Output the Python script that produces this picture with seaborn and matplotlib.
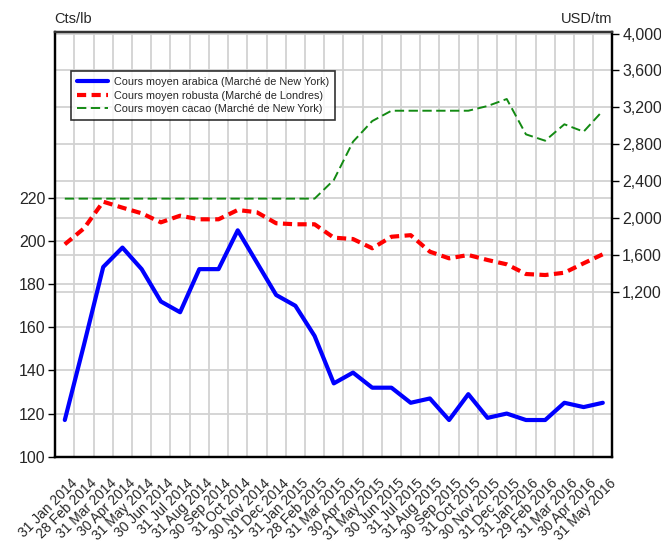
import numpy as np
import pandas as pd
import matplotlib
matplotlib.use("Agg")
from matplotlib import pyplot as plt
import seaborn as sns

# monthly averages, Jan 2014 - May 2016
months = ["31 Jan 2014", "28 Feb 2014", "31 Mar 2014", "30 Apr 2014", "31 May 2014",
          "30 Jun 2014", "31 Jul 2014", "31 Aug 2014", "30 Sep 2014", "31 Oct 2014",
          "30 Nov 2014", "31 Dec 2014", "31 Jan 2015", "28 Feb 2015", "31 Mar 2015",
          "30 Apr 2015", "31 May 2015", "30 Jun 2015", "31 Jul 2015", "31 Aug 2015",
          "30 Sep 2015", "31 Oct 2015", "30 Nov 2015", "31 Dec 2015", "31 Jan 2016",
          "29 Feb 2016", "31 Mar 2016", "30 Apr 2016", "31 May 2016"]
arabica = [117, 152, 188, 197, 187, 172, 167, 187, 187, 205,
           190, 175, 170, 156, 134, 139, 132, 132, 125, 127,
           117, 129, 118, 120, 117, 117, 125, 123, 125]
robusta = [1715, 1888, 2177, 2112, 2051, 1953, 2025, 1986, 1986, 2087,
           2062, 1943, 1932, 1932, 1787, 1772, 1672, 1797, 1814, 1635,
           1563, 1599, 1545, 1498, 1393, 1382, 1407, 1509, 1607]
cacao = [2210, 2210, 2210, 2210, 2210, 2210, 2210, 2210, 2210, 2210,
         2210, 2210, 2210, 2210, 2412, 2827, 3051, 3163, 3163, 3163,
         3163, 3163, 3214, 3290, 2907, 2838, 3016, 2936, 3163]

left_ticks = [100, 120, 140, 160, 180, 200, 220]
right_ticks = [1200, 1600, 2000, 2400, 2800, 3200, 3600, 4000]

df = pd.DataFrame({"pos": np.arange(len(months)), "arabica": arabica,
                   "robusta": robusta, "cacao": cacao})

sns.set_style("white")
plt.rcParams["font.family"] = ["Liberation Sans Narrow", "Liberation Sans", "DejaVu Sans"]

fig = plt.figure(figsize=(6.61, 5.43), dpi=100)
ax = fig.add_axes([0.0835, 0.159, 0.843, 0.782])
ax2 = ax.twinx()

grid_c = "#d2d2d2"
sns.lineplot(data=df, x="pos", y="arabica", ax=ax, color="#0000ff", lw=3,
             label="Cours moyen arabica (Marché de New York)", legend=False, zorder=3)
sns.lineplot(data=df, x="pos", y="robusta", ax=ax2, color="#ff0000", lw=3,
             dashes=(2.2, 1.3), label="Cours moyen robusta (Marché de Londres)",
             legend=False, zorder=3)
sns.lineplot(data=df, x="pos", y="cacao", ax=ax2, color="#138a13", lw=1.4,
             dashes=(4.8, 2.3), label="Cours moyen cacao (Marché de New York)",
             legend=False, zorder=3)

ax.set_xlim(-0.5, len(months) - 0.5)
ax.set_ylim(100, 297)
ax2.set_ylim(-587, 4016)

# month labels slightly right of each category centre, tick marks on the boundaries
ax.set_xticks(np.arange(len(months)) + 0.3)
ax.set_xticklabels(months, rotation=45, ha="right", rotation_mode="anchor", fontsize=10)
ax.set_xticks(np.arange(-0.5, len(months)), minor=True)
ax.tick_params(axis="x", which="major", length=0, pad=14)
ax.tick_params(axis="x", which="minor", length=5, width=1.2, color="black", direction="out")
ax.set_yticks(left_ticks)
ax.tick_params(axis="y", length=5, width=1, color="black", direction="out", labelsize=11.5, pad=2)
ax2.set_yticks(right_ticks)
ax2.set_yticklabels([f"{v:,}" for v in right_ticks])
ax2.tick_params(axis="y", length=5, width=1, color="black", direction="out", labelsize=11.5, pad=2)

ax.set_xlabel("")
ax.set_ylabel("")
ax2.set_ylabel("")

# gridlines, all kept behind the series
ax.grid(False)
ax2.grid(False)
for p in np.arange(0.5, len(months) - 1):
    ax.axvline(p, color=grid_c, lw=1.3, zorder=0.5)
ax.hlines(left_ticks, 0, 1, transform=ax.get_yaxis_transform(), colors=grid_c, lw=1.3, zorder=0.5)
ax.hlines(right_ticks, 0, 1, transform=ax2.get_yaxis_transform(), colors=grid_c, lw=1.3, zorder=0.5)

for a in (ax, ax2):
    for s in a.spines.values():
        s.set_visible(True)
        s.set_color("black")
        s.set_linewidth(1.6)
ax2.spines["top"].set_color("#333333")

h1, l1 = ax.get_legend_handles_labels()
h2, l2 = ax2.get_legend_handles_labels()
leg = ax2.legend(h1 + h2, l1 + l2, loc="upper left", bbox_to_anchor=(0.029, 0.908),
                 borderaxespad=0, fontsize=7.8, frameon=True, fancybox=False,
                 handlelength=2.8, labelspacing=0.32, borderpad=0.55, handletextpad=0.55)
leg.get_frame().set_edgecolor("black")
leg.get_frame().set_linewidth(1.2)

fig.text(0.082, 0.965, "Cts/lb", fontsize=10.5, ha="left", va="center")
fig.text(0.926, 0.965, "USD/tm", fontsize=10.5, ha="right", va="center")

fig.savefig("out.png", dpi=100)
